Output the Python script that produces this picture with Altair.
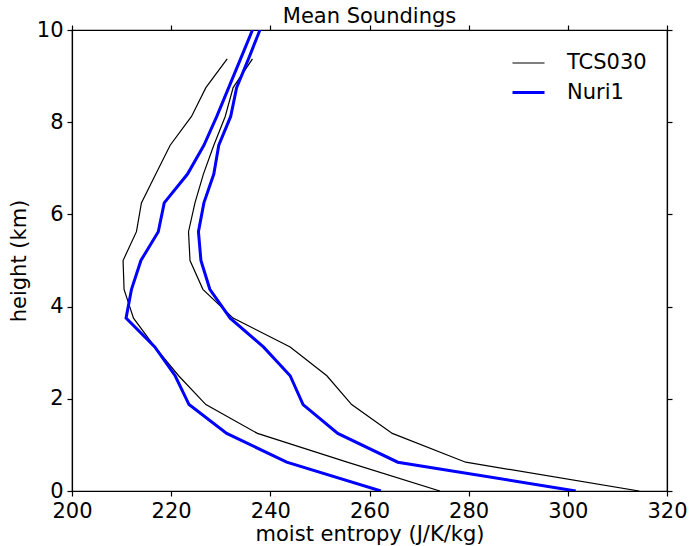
import altair as alt
import pandas as pd

heights = [0.0, 0.625, 1.25, 1.875, 2.5, 3.125, 3.75, 4.375, 5.0, 5.625,
           6.25, 6.875, 7.5, 8.125, 8.75, 9.375, 10.0]

tcs_low = [274.2, 255.5, 237.4, 227.0, 221.5, 216.7, 212.4, 210.5, 210.3, 213.0,
           214.0, 216.9, 219.8, 224.1, 227.0, 231.3]
tcs_high = [314.4, 279.4, 264.6, 256.4, 251.4, 244.0, 232.5, 226.4, 223.8, 223.5,
            224.8, 226.5, 228.6, 230.9, 232.5, 236.4]
nuri_low = [262.3, 243.3, 231.2, 223.6, 220.8, 216.7, 210.9, 212.0, 213.9, 217.4,
            218.6, 223.3, 226.6, 229.2, 231.6, 234.0, 236.4]
nuri_high = [301.6, 265.7, 253.6, 246.6, 244.0, 238.6, 231.9, 227.8, 226.0, 225.5,
             226.6, 228.6, 229.6, 232.0, 233.2, 235.6, 237.9]

rows = []
for name, curve, vals in [("TCS030", "a", tcs_low), ("TCS030", "b", tcs_high),
                          ("Nuri1", "c", nuri_low), ("Nuri1", "d", nuri_high)]:
    for h, v in zip(heights, vals):
        rows.append({"series": name, "curve": curve, "h": h, "s": v})
df = pd.DataFrame(rows)

FONT = "DejaVu Sans"
FS = 21
xticks = [200, 220, 240, 260, 280, 300, 320]
yticks = [0, 2, 4, 6, 8, 10]
xscale = alt.Scale(domain=[200, 320], nice=False, zero=False)
yscale = alt.Scale(domain=[0, 10], nice=False, zero=False)

leg = alt.Legend(title=None, orient="none", legendX=439, legendY=16,
                 symbolType="stroke", symbolSize=1024,
                 labelFontSize=FS, labelFont=FONT, labelOffset=21,
                 rowPadding=2, padding=0)

lines = alt.Chart(df).mark_line(clip=True).encode(
    x=alt.X("s:Q", scale=xscale,
            axis=alt.Axis(title="moist entropy (J/K/kg)", values=xticks, labelFlush=False,
                          tickSize=5, labelPadding=4, titlePadding=2, grid=False)),
    y=alt.Y("h:Q", scale=yscale,
            axis=alt.Axis(title="height (km)", values=yticks, labelFlush=False,
                          tickSize=5, labelPadding=4, titlePadding=7, grid=False)),
    color=alt.Color("series:N",
                    scale=alt.Scale(domain=["TCS030", "Nuri1"], range=["black", "blue"]),
                    legend=leg),
    strokeWidth=alt.StrokeWidth("series:N",
                                scale=alt.Scale(domain=["TCS030", "Nuri1"], range=[1.2, 3]),
                                legend=leg),
    detail="curve:N",
    order="h:Q",
)

mirror = alt.Chart(df).mark_line(strokeOpacity=0).encode(
    x=alt.X("s:Q", scale=xscale,
            axis=alt.Axis(orient="top", title=None, labels=False, tickSize=5,
                          values=xticks, grid=False)),
    y=alt.Y("h:Q", scale=yscale,
            axis=alt.Axis(orient="right", title=None, labels=False, tickSize=5,
                          values=yticks, grid=False)),
    detail="curve:N",
    order="h:Q",
)

chart = alt.layer(lines, mirror).resolve_axis(x="independent", y="independent").properties(
    width=595, height=461,
    title=alt.TitleParams("Mean Soundings", fontSize=FS, font=FONT, fontWeight="normal",
                          anchor="middle", offset=-8),
    autosize=alt.AutoSizeParams(type="none"),
    padding={"left": 72, "top": 30, "right": 23, "bottom": 55},
).configure_view(stroke="black", strokeWidth=1.2).configure_axis(
    domainColor="black", tickColor="black", labelColor="black", titleColor="black",
    labelFont=FONT, titleFont=FONT, labelFontSize=FS, titleFontSize=FS,
    titleFontWeight="normal", domainWidth=1.2, tickWidth=1.2,
).configure_title(color="black")

chart.save("out.html", embed_options={"renderer": "svg", "actions": False})
